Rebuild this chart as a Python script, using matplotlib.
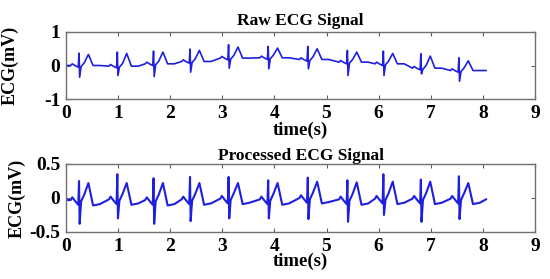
import matplotlib.pyplot as plt
import numpy as np

# beat (R peak) times in seconds
beat_times = [0.25, 0.985, 1.68, 2.38, 3.12, 3.88, 4.64, 5.40, 6.09, 6.81, 7.54]
end_time = 8.06

# raw signal, per beat (mV)
raw_base = [0.0, -0.02, 0.05, 0.12, 0.22, 0.23, 0.18, 0.10, 0.05, -0.08, -0.15]
raw_r = [0.37, 0.40, 0.43, 0.49, 0.62, 0.57, 0.57, 0.45, 0.43, 0.35, 0.23]
raw_s = [-0.35, -0.30, -0.33, -0.20, -0.08, -0.10, -0.10, -0.30, -0.30, -0.25, -0.47]
raw_t = [0.33, 0.36, 0.40, 0.45, 0.55, 0.52, 0.50, 0.40, 0.36, 0.28, 0.14]

# processed signal, per beat (mV)
proc_base = [-0.03, -0.02, -0.03, -0.02, -0.01, -0.02, 0.0, -0.02, -0.01, -0.01, -0.01]
proc_r = [0.25, 0.35, 0.29, 0.31, 0.31, 0.26, 0.30, 0.26, 0.35, 0.27, 0.32]
proc_s = [-0.38, -0.30, -0.38, -0.34, -0.30, -0.30, -0.31, -0.35, -0.25, -0.35, -0.31]
proc_t = [0.22, 0.22, 0.22, 0.22, 0.22, 0.22, 0.24, 0.23, 0.24, 0.24, 0.22]

# shape of one beat around R: time offsets and levels relative to baseline
shape_dt = [-0.16, -0.13, -0.08, -0.015, 0.0, 0.012, 0.04, 0.10, 0.18, 0.27, 0.40]
raw_shape = [0.0, 0.05, 0.0, -0.05, None, None, -0.03, 0.08, None, 0.0, 0.0]
proc_shape = [0.0, 0.04, -0.01, -0.07, None, None, -0.02, 0.08, None, -0.08, -0.06]


def build_signal(base, r, s, t, shape, start_val, end_val):
    xs = [0.0]
    ys = [start_val]
    for i, bt in enumerate(beat_times):
        for dt, lvl in zip(shape_dt, shape):
            xs.append(bt + dt)
            if dt == 0.0:
                ys.append(r[i])
            elif dt == 0.012:
                ys.append(s[i])
            elif dt == 0.18:
                ys.append(t[i])
            else:
                ys.append(base[i] + lvl)
    xs.append(end_time)
    ys.append(end_val)
    return np.array(xs), np.array(ys)


plt.rcParams['font.family'] = 'Liberation Serif'
plt.rcParams['font.weight'] = 'bold'

fig = plt.figure(figsize=(5.5, 2.79), dpi=100)
ax1 = fig.add_axes([66 / 550, 1 - 99 / 279, 469 / 550, 67 / 279])
ax2 = fig.add_axes([66 / 550, 1 - 232 / 279, 469 / 550, 68 / 279])

x1, y1 = build_signal(raw_base, raw_r, raw_s, raw_t, raw_shape, 0.0, -0.15)
x2, y2 = build_signal(proc_base, proc_r, proc_s, proc_t, proc_shape, -0.03, -0.02)

ax1.plot(x1, y1, color='#1f1fe0', lw=1.2)
ax2.plot(x2, y2, color='#1f1fe0', lw=1.5)

ax1.set_ylim(-1, 1)
ax1.set_yticks([-1, 0, 1])
ax1.set_yticklabels(['-1', '0', '1'])
ax2.set_ylim(-0.5, 0.5)
ax2.set_yticks([-0.5, 0, 0.5])
ax2.set_yticklabels(['-0.5', '0', '0.5'])

ax1.set_title('Raw ECG Signal', fontsize=12.5, fontweight='bold', pad=5)
ax2.set_title('Processed ECG Signal', fontsize=12.5, fontweight='bold', pad=3)

for ax in (ax1, ax2):
    ax.set_xlim(0, 9)
    ax.set_xticks(range(10))
    ax.tick_params(direction='in', top=True, right=True, length=3,
                   color='#606060', labelsize=14, pad=4)
    for lbl in ax.get_xticklabels() + ax.get_yticklabels():
        lbl.set_fontweight('bold')
    for sp in ax.spines.values():
        sp.set_color('#707070')
        sp.set_linewidth(1.0)
    ax.set_xlabel('time(s)', fontsize=13.5, fontweight='bold')
    ax.set_ylabel('ECG(mV)', fontsize=13, fontweight='bold')

ax1.xaxis.set_label_coords(0.5, -0.34)
ax2.xaxis.set_label_coords(0.5, -0.31)
ax1.yaxis.set_label_coords(-0.100, 0.5)
ax2.yaxis.set_label_coords(-0.087, 0.5)

plt.savefig('out.png', dpi=100)
